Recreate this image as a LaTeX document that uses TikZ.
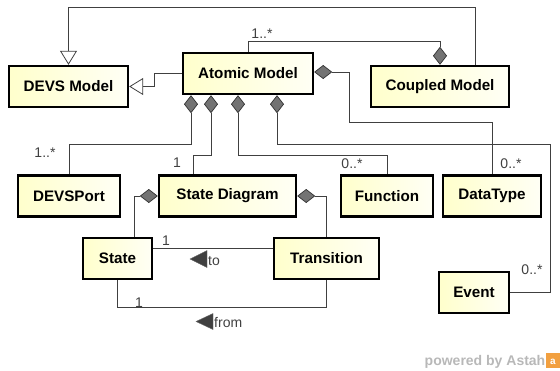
\documentclass[tikz,border=0pt]{standalone}
\usepackage{fontspec}
\setmainfont{Liberation Sans}
\usetikzlibrary{arrows.meta,calc}
\definecolor{boxfill}{HTML}{FFFFCC}
\definecolor{linec}{HTML}{404040}
\definecolor{astah}{HTML}{F2A040}
\begin{document}
\begin{tikzpicture}[x=1pt,y=-1pt,
  cls/.style={draw=black, line width=2.4pt, left color=boxfill, right color=white!80!boxfill,
    minimum height=41pt, inner sep=0pt, font=\fontsize{15.2}{18}\selectfont\bfseries},
  conn/.style={draw=linec, line width=0.8pt},
  comp/.style={conn, {Diamond[length=18pt,width=14pt,fill=black!55,color=black!80,line width=0.7pt]}-},
  gen/.style={conn, -{Triangle[open,length=14pt,width=17pt,fill=white,color=linec,line width=0.8pt]}},
  lab/.style={font=\fontsize{14}{16}\selectfont, text=linec, inner sep=0pt},
  dirtri/.style={fill=black!75, draw=black!60, line width=0.4pt}
]
\useasboundingbox (0,0) rectangle (560,370);

% classes
\node[cls, minimum width=119pt] (dm) at (68.5,86.5) {DEVS Model};
\node[cls, minimum width=130pt] (am) at (248,73.5) {Atomic Model};
\node[cls, minimum width=138pt] (cm) at (440,86.5) {Coupled Model};
\node[cls, minimum width=102pt] (dp) at (69,196) {DEVSPort};
\node[cls, minimum width=137pt] (sd) at (227.5,196) {State Diagram};
\node[cls, minimum width=92pt]  (fn) at (387,196) {Function};
\node[cls, minimum width=98pt]  (dt) at (492,196) {DataType};
\node[cls, minimum width=69pt]  (st) at (117.5,258.5) {State};
\node[cls, minimum width=105pt] (tr) at (326.5,258.5) {Transition};
\node[cls, minimum width=70pt]  (ev) at (474,292.5) {Event};

% generalizations
\draw[gen] ($(cm.north)+(35,0)$) |- ($(dm.north)+(0,-57)$) -- (dm.north);
\draw[gen] (am.west) -- ++(-27,0) |- (dm.east);

% compositions
\draw[comp] (cm.north) |- ($(am.north)+(0,-10)$) -- (am.north);
\draw[comp] ($(am.south)+(-57,0)$) -- ++(0,49) -| (dp.north);
\draw[comp] ($(am.south)+(-37,0)$) -- ++(0,60) -| ($(sd.north)+(-34.5,0)$);
\draw[comp] ($(am.south)+(-10,0)$) -- ++(0,60) -| (fn.north);
\draw[comp] ($(am.south)+(29,0)$) -- ++(0,49) -- ++(273,0) |- (ev.east);
\draw[comp] ($(am.east)+(0,-1.5)$) -- ++(35,0) -- ++(0,50) -| (dt.north);
\draw[comp] (sd.west) -| ($(st.north)+(16.5,0)$);
\draw[comp] (sd.east) -| (tr.north);

% associations
\draw[conn] ($(st.east)+(0,-10.5)$) -- ($(tr.west)+(0,-10.5)$);
\draw[conn] (st.south) |- ($(tr.south)+(0,27)$) -- (tr.south);

% multiplicities
\node[lab] (l1) at (262,34) {1..*};
\node[lab] (l2) at (45,153) {1..*};
\node[lab] (l3) at (177,163) {1};
\node[lab] (l4) at (352,164) {0..*};
\node[lab] (l5) at (511,164) {0..*};
\node[lab] (l6) at (532,270) {0..*};
\node[lab] (l7) at (166,241) {1};
\node[lab] (l8) at (139,303) {1};

% association names
\draw[dirtri] (190,259) -- (207,250.5) -- (207,267.5) -- cycle;
\node[lab, anchor=west] (tolab) at (208,261) {to};
\draw[dirtri] (196,321.5) -- (213,313.5) -- (213,329.5) -- cycle;
\node[lab, anchor=west] (fromlab) at (214,322.5) {from};

% watermark
\node[font=\fontsize{14}{16}\selectfont\bfseries, text=black!28, inner sep=0pt, anchor=base east] (wm) at (545.5,365) {powered by Astah};
\fill[astah] (546,353) rectangle (560,368);
\node[font=\fontsize{10}{10}\selectfont\bfseries, text=white, inner sep=0pt] (logo) at (553,362) {a};
\end{tikzpicture}
\end{document}
